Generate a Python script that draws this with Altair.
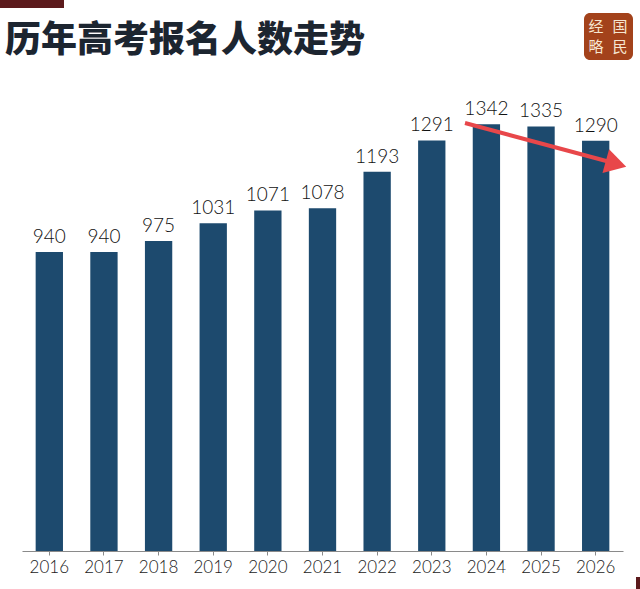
import altair as alt
import pandas as pd

years = ["2016", "2017", "2018", "2019", "2020", "2021", "2022", "2023", "2024", "2025", "2026"]
values = [940, 940, 975, 1031, 1071, 1078, 1193, 1291, 1342, 1335, 1290]

df = pd.DataFrame({"year": years, "value": values})
one = pd.DataFrame({"k": [0]})

W, H = 601, 477

x = alt.X("year:N", sort=years, title=None,
          scale=alt.Scale(paddingInner=0.5, paddingOuter=0.25),
          axis=alt.Axis(labelAngle=0, labelFont="Lato", labelFontSize=17,
                        labelFontWeight=300,
                        labelColor="#1a1a1a", labelPadding=4,
                        domainColor="#8a8a8a", tickColor="#8a8a8a",
                        tickSize=4, domainWidth=1.2))
y = alt.Y("value:Q", title=None, scale=alt.Scale(domain=[0, 1500], nice=False), axis=None)

bars = alt.Chart(df).mark_bar(color="#1d4a6e").encode(x=x, y=y)
labels = alt.Chart(df).mark_text(baseline="bottom", dy=-5, font="Lato",
                                 fontSize=19, fontWeight=300, color="#111111").encode(
    x=alt.X("year:N", sort=years), y="value:Q", text="value:Q")

title = alt.Chart(one).mark_text(text="历年高考报名人数走势", align="left",
                                 baseline="middle", font="Noto Sans CJK SC",
                                 fontSize=36, fontWeight=900,
                                 color="#1c2530").encode(
    x=alt.value(-17), y=alt.value(-33))

topbar = alt.Chart(one).mark_rect(color="#5c1a1c").encode(
    x=alt.value(-22), x2=alt.value(42), y=alt.value(-74), y2=alt.value(-66))

logo = alt.Chart(one).mark_rect(color="#a3421b", cornerRadius=6).encode(
    x=alt.value(562), x2=alt.value(611), y=alt.value(-61), y2=alt.value(-14))
logo_txt = pd.DataFrame({"t": ["经", "国", "略", "民"],
                         "px": [574, 598, 574, 598],
                         "py": [-47, -47, -27, -27]})
logo_text = alt.Chart(logo_txt).mark_text(font="Noto Sans CJK SC", fontSize=15,
                                          color="#f6e7d2", baseline="middle").encode(
    x=alt.X("px:Q", scale=None), y=alt.Y("py:Q", scale=None), text="t:N")

arrow_line = alt.Chart(one).mark_rule(color="#e8474a", strokeWidth=4).encode(
    x=alt.value(443), x2=alt.value(588), y=alt.value(49), y2=alt.value(88))
arrow_head = alt.Chart(one).mark_point(shape="triangle-right", filled=True,
                                       color="#e8474a", opacity=1, size=600,
                                       angle=15.6).encode(
    x=alt.value(594), y=alt.value(90))

corner = alt.Chart(one).mark_rect(color="#5c1a1c").encode(
    x=alt.value(614), x2=alt.value(618), y=alt.value(503), y2=alt.value(515))

chart = alt.layer(bars, labels, arrow_line, arrow_head, title, topbar, logo,
                  logo_text, corner).properties(
    width=W, height=H,
    autosize=alt.AutoSizeParams(type="none"),
    padding={"left": 22, "top": 74, "right": 17, "bottom": 38},
    background="#ffffff",
).configure_view(stroke=None)

chart.save("out.html", embed_options={"renderer": "svg", "actions": False})
